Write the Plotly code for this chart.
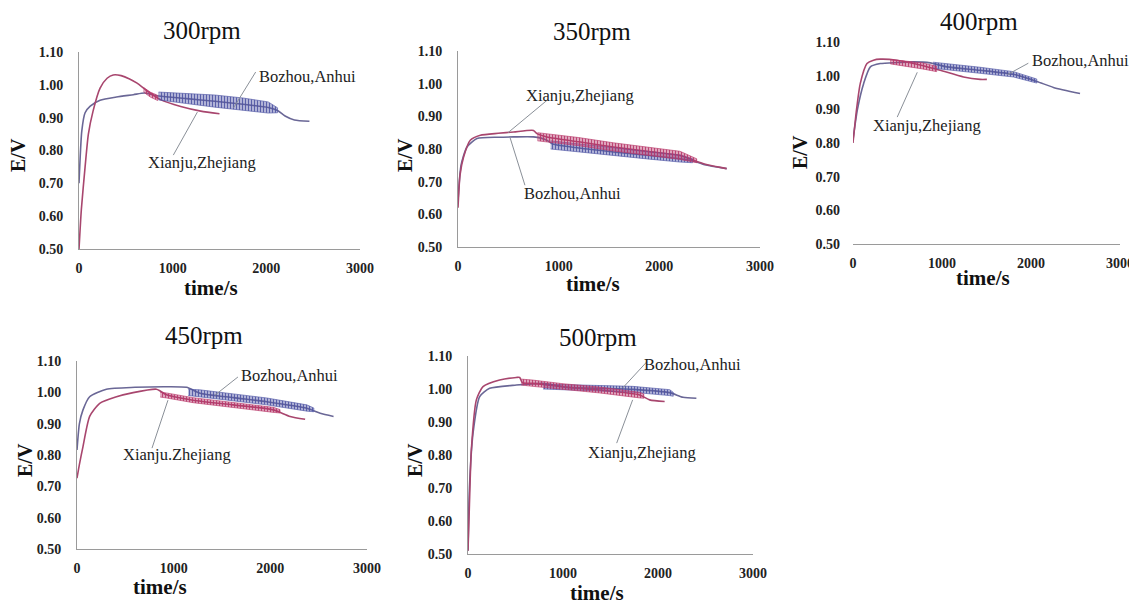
import plotly.graph_objects as go

# the page adds an 8px body margin, so the figure is drawn 8px smaller
OFF = 8
W, H = 1137 - OFF, 606 - OFF

# ---------------- data ----------------
titles = ["300rpm", "350rpm", "400rpm", "450rpm", "500rpm"]
x_ticks = [0, 1000, 2000, 3000]
y_ticks = [0.5, 0.6, 0.7, 0.8, 0.9, 1.0, 1.1]

# 300 rpm
bz300_t = [0, 30, 65, 120, 225, 400, 580, 700, 850, 1150, 1450, 1750, 2020, 2120, 2200, 2300, 2460]
bz300_e = [0.70, 0.86, 0.915, 0.935, 0.953, 0.963, 0.970, 0.975, 0.966, 0.958, 0.950, 0.941, 0.931, 0.922, 0.905, 0.893, 0.889]
bz300_band_t = [850, 1150, 1450, 1750, 2020, 2120]
bz300_band_hi = [0.978, 0.974, 0.969, 0.960, 0.948, 0.930]
bz300_band_lo = [0.954, 0.943, 0.932, 0.922, 0.914, 0.915]
xj300_t = [0, 25, 65, 100, 150, 225, 300, 365, 450, 540, 620, 725, 870, 1086, 1300, 1500]
xj300_e = [0.50, 0.62, 0.75, 0.85, 0.92, 0.99, 1.02, 1.030, 1.028, 1.018, 1.005, 0.982, 0.955, 0.934, 0.920, 0.912]
xj300_band_t = [690, 760, 840]
xj300_band_hi = [0.992, 0.978, 0.968]
xj300_band_lo = [0.978, 0.963, 0.952]

# 350 rpm
bz350_t = [0, 30, 89, 188, 400, 552, 750, 883, 940, 1200, 1544, 1900, 2206, 2321, 2450, 2669]
bz350_e = [0.64, 0.75, 0.806, 0.832, 0.836, 0.837, 0.837, 0.827, 0.815, 0.803, 0.791, 0.780, 0.770, 0.765, 0.752, 0.740]
bz350_band_t = [920, 1200, 1544, 1900, 2206, 2330]
bz350_band_hi = [0.825, 0.815, 0.803, 0.792, 0.782, 0.770]
bz350_band_lo = [0.800, 0.792, 0.780, 0.769, 0.760, 0.758]
xj350_t = [0, 20, 56, 122, 222, 400, 552, 750, 784, 883, 1200, 1544, 1900, 2206, 2371, 2500, 2669]
xj350_e = [0.62, 0.72, 0.776, 0.827, 0.842, 0.848, 0.852, 0.857, 0.847, 0.837, 0.822, 0.806, 0.792, 0.780, 0.762, 0.750, 0.740]
xj350_band_t = [790, 1200, 1544, 1900, 2206, 2371]
xj350_band_hi = [0.850, 0.835, 0.819, 0.805, 0.793, 0.770]
xj350_band_lo = [0.825, 0.810, 0.794, 0.780, 0.768, 0.758]

# 400 rpm
bz400_t = [0, 50, 120, 195, 307, 500, 681, 868, 1055, 1429, 1803, 2065, 2252, 2551]
bz400_e = [0.81, 0.90, 0.977, 1.026, 1.036, 1.039, 1.041, 1.038, 1.026, 1.016, 1.004, 0.983, 0.965, 0.947]
bz400_band_t = [900, 1100, 1429, 1803, 2065]
bz400_band_hi = [1.040, 1.035, 1.025, 1.012, 0.990]
bz400_band_lo = [1.022, 1.017, 1.007, 0.996, 0.978]
xj400_t = [0, 40, 82, 157, 230, 307, 494, 681, 850, 980, 1242, 1429, 1504]
xj400_e = [0.80, 0.90, 0.977, 1.036, 1.046, 1.049, 1.046, 1.036, 1.025, 1.016, 0.996, 0.989, 0.989]
xj400_band_t = [420, 600, 780, 940]
xj400_band_hi = [1.048, 1.044, 1.038, 1.028]
xj400_band_lo = [1.035, 1.028, 1.020, 1.012]

# 450 rpm
bz450_t = [0, 25, 62, 131, 304, 600, 926, 1134, 1272, 1617, 1963, 2378, 2516, 2654]
bz450_e = [0.816, 0.90, 0.944, 0.986, 1.010, 1.016, 1.018, 1.016, 0.997, 0.983, 0.970, 0.949, 0.933, 0.923]
bz450_band_t = [1150, 1272, 1617, 1963, 2378, 2450]
bz450_band_hi = [1.010, 1.008, 0.995, 0.982, 0.960, 0.950]
bz450_band_lo = [0.990, 0.986, 0.972, 0.960, 0.940, 0.938]
xj450_t = [0, 25, 62, 131, 235, 400, 581, 822, 857, 926, 1200, 1617, 2032, 2205, 2360]
xj450_e = [0.726, 0.77, 0.827, 0.923, 0.965, 0.985, 0.999, 1.010, 1.005, 0.992, 0.975, 0.960, 0.944, 0.923, 0.914]
xj450_band_t = [860, 926, 1200, 1617, 2032, 2100]
xj450_band_hi = [1.000, 0.998, 0.983, 0.968, 0.952, 0.945]
xj450_band_lo = [0.985, 0.982, 0.967, 0.952, 0.936, 0.934]

# 500 rpm
bz500_t = [0, 15, 53, 123, 228, 509, 790, 1035, 1400, 1737, 2123, 2263, 2404]
bz500_e = [0.51, 0.70, 0.866, 0.977, 1.002, 1.012, 1.017, 1.005, 1.002, 0.999, 0.989, 0.975, 0.972]
bz500_band_t = [790, 1035, 1400, 1737, 2123, 2160]
bz500_band_hi = [1.015, 1.013, 1.010, 1.008, 0.998, 0.990]
bz500_band_lo = [1.000, 0.997, 0.994, 0.990, 0.980, 0.978]
xj500_t = [0, 15, 35, 88, 158, 333, 509, 544, 572, 684, 1000, 1386, 1807, 1912, 2070]
xj500_e = [0.51, 0.65, 0.815, 0.967, 1.007, 1.027, 1.035, 1.035, 1.019, 1.017, 1.007, 0.997, 0.982, 0.967, 0.962]
xj500_band_t = [560, 684, 1000, 1386, 1807, 1850]
xj500_band_hi = [1.030, 1.027, 1.016, 1.006, 0.990, 0.985]
xj500_band_lo = [1.012, 1.008, 0.998, 0.988, 0.973, 0.972]

bozhou_label = "Bozhou,Anhui"
xianju_labels = ["Xianju,Zhejiang", "Xianju,Zhejiang", "Xianju,Zhejiang", "Xianju.Zhejiang", "Xianju,Zhejiang"]

# ---------------- layout geometry (window pixels) ----------------
# x0, x1, ytop(1.10), ybottom(0.50)
panels = [
    (79, 360, 52, 249),
    (458, 760, 51, 247),
    (853, 1120, 42, 244),
    (77, 367, 361, 549),
    (468, 753, 356, 554),
]
title_pos = [(202, 31), (592, 32), (979, 22), (204, 335), (598, 337)]
ylab_pos = [(18, 155), (405, 155), (800, 152), (25, 460), (415, 460)]
xlab_pos = [(211, 288), (593, 284), (983, 278), (160, 587), (597, 593)]
show_yline = [True, True, False, True, True]

# annotation (text position, leader start, leader tip) in data coords
bz_ann = [
    ((2444, 1.024), (1886, 1.039), (1650, 0.930)),
    ((1142, 0.665), (665, 0.689), (516, 0.836)),
    ((2554, 1.046), (1970, 1.037), (1734, 1.003)),
    ((2203, 1.055), (1665, 1.049), (1427, 0.991)),
    ((2365, 1.073), (1881, 1.082), (1628, 1.003)),
]
xj_ann = [
    ((1318, 0.762), (1007, 0.786), (1264, 0.917)),
    ((1211, 0.965), (884, 0.949), (497, 0.850)),
    ((833, 0.853), (497, 0.877), (722, 1.010)),
    ((1034, 0.803), (776, 0.822), (941, 0.975)),
    ((1828, 0.809), (1565, 0.836), (1733, 0.967)),
]

series = [
    (bz300_t, bz300_e, bz300_band_t, bz300_band_hi, bz300_band_lo,
     xj300_t, xj300_e, xj300_band_t, xj300_band_hi, xj300_band_lo),
    (bz350_t, bz350_e, bz350_band_t, bz350_band_hi, bz350_band_lo,
     xj350_t, xj350_e, xj350_band_t, xj350_band_hi, xj350_band_lo),
    (bz400_t, bz400_e, bz400_band_t, bz400_band_hi, bz400_band_lo,
     xj400_t, xj400_e, xj400_band_t, xj400_band_hi, xj400_band_lo),
    (bz450_t, bz450_e, bz450_band_t, bz450_band_hi, bz450_band_lo,
     xj450_t, xj450_e, xj450_band_t, xj450_band_hi, xj450_band_lo),
    (bz500_t, bz500_e, bz500_band_t, bz500_band_hi, bz500_band_lo,
     xj500_t, xj500_e, xj500_band_t, xj500_band_hi, xj500_band_lo),
]

BZ_LINE = "#6a6796"
BZ_BAND = "#4f55a3"
XJ_LINE = "#a8466e"
XJ_BAND = "#b8386a"
SERIF = "Liberation Serif, Times New Roman, serif"


def px(x):
    return (x - OFF) / W


def py(y):
    return 1 - (y - OFF) / H


fig = go.Figure()
layout = dict(
    width=W, height=H, margin=dict(l=0, r=0, t=0, b=0, autoexpand=False),
    paper_bgcolor="white", plot_bgcolor="white", showlegend=False,
    annotations=[], shapes=[],
)


def rgba(hexc, a):
    h = hexc.lstrip("#")
    return "rgba(%d,%d,%d,%.2f)" % (int(h[0:2], 16), int(h[2:4], 16), int(h[4:6], 16), a)


def band(fig, t, hi, lo, color, xa, ya):
    fig.add_trace(go.Scatter(
        x=list(t) + list(t)[::-1], y=list(hi) + list(lo)[::-1],
        mode="lines", line=dict(width=0.8, color=rgba(color, 0.8)), fill="toself",
        fillcolor=rgba(color, 0.35),
        fillpattern=dict(shape="|", fgcolor=color, fgopacity=0.9, size=3, solidity=0.45),
        xaxis=xa, yaxis=ya, hoverinfo="skip"))


for i, (x0, x1, yt, yb) in enumerate(panels):
    n = "" if i == 0 else str(i + 1)
    xa, ya = "x" + n, "y" + n
    bt, be, bbt, bbh, bbl, xt, xe, xbt, xbh, xbl = series[i]
    fig.add_trace(go.Scatter(x=bt, y=be, mode="lines", line=dict(color=BZ_LINE, width=1.6, shape="spline", smoothing=0.6),
                             xaxis=xa, yaxis=ya, name=bozhou_label))
    fig.add_trace(go.Scatter(x=xt, y=xe, mode="lines", line=dict(color=XJ_LINE, width=1.6, shape="spline", smoothing=0.6),
                             xaxis=xa, yaxis=ya, name=xianju_labels[i]))
    band(fig, bbt, bbh, bbl, BZ_BAND, xa, ya)
    band(fig, xbt, xbh, xbl, XJ_BAND, xa, ya)

    axis_common = dict(showgrid=False, zeroline=False, ticks="", fixedrange=True, automargin=False,
                       tickfont=dict(family=SERIF, size=14, color="#222", weight="bold"))
    layout["xaxis" + n] = dict(
        domain=[px(x0), px(x1)], anchor=ya, range=[0, 3000], tickvals=x_ticks,
        showline=True, linecolor="#9a9a9a", linewidth=1, ticklabelstandoff=6, **axis_common)
    layout["yaxis" + n] = dict(
        domain=[py(yb), py(yt)], anchor=xa, range=[0.5, 1.1], tickvals=y_ticks,
        tickformat=".2f", showline=show_yline[i], linecolor="#9a9a9a", linewidth=1,
        ticklabelstandoff=12, **axis_common)

    tx, ty = title_pos[i]
    layout["annotations"].append(dict(text=titles[i], x=px(tx), y=py(ty), xref="paper", yref="paper",
                                      showarrow=False, xanchor="center", yanchor="middle",
                                      font=dict(family=SERIF, size=25, color="#111")))
    lx, ly = ylab_pos[i]
    layout["annotations"].append(dict(text="E/V", x=px(lx), y=py(ly), xref="paper", yref="paper",
                                      showarrow=False, textangle=-90, xanchor="center", yanchor="middle",
                                      font=dict(family=SERIF, size=20, color="#111", weight="bold")))
    lx, ly = xlab_pos[i]
    layout["annotations"].append(dict(text="time/s", x=px(lx), y=py(ly), xref="paper", yref="paper",
                                      showarrow=False, xanchor="center", yanchor="middle",
                                      font=dict(family=SERIF, size=21, color="#111", weight="bold")))

    for (txt, ann) in ((bozhou_label, bz_ann[i]), (xianju_labels[i], xj_ann[i])):
        (ax_, ay_), (s0, s1), (e0, e1) = ann
        layout["annotations"].append(dict(text=txt, x=ax_, y=ay_, xref=xa, yref=ya, showarrow=False,
                                          xanchor="center", yanchor="middle",
                                          font=dict(family=SERIF, size=16.5, color="#222")))
        layout["shapes"].append(dict(type="line", xref=xa, yref=ya, x0=s0, y0=s1, x1=e0, y1=e1,
                                     line=dict(color="#8a9098", width=1)))

fig.update_layout(**layout)
fig.write_html("out.html")
